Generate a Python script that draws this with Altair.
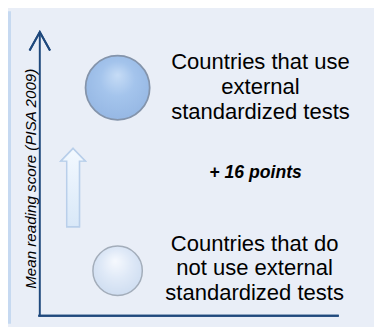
import altair as alt
import pandas as pd

# ---- data ----
groups = ["without_tests", "with_tests"]
labels = [
    "Countries that do\nnot use external\nstandardized tests",
    "Countries that use\nexternal\nstandardized tests",
]
score_gain = [0, 16]  # reading score relative to countries without tests
axis_title = "Mean reading score (PISA 2009)"

df = pd.DataFrame({"group": groups, "label": labels, "score": score_gain})
gap = score_gain[1] - score_gain[0]
ann = pd.DataFrame({"score": [(score_gain[0] + score_gain[1]) / 2],
                    "label": [f"+ {gap} points"]})

# ---- styles ----
PANEL = "#e9eef7"
BAND = "#c6d9f1"
AXIS = "#1f497d"
FONT = "Liberation Sans"
W, H = 305, 290

yscale = alt.Scale(domain=[-3.94, 20.88])
yaxis = alt.Axis(title=axis_title, labels=False, ticks=False, grid=False,
                 domain=True, domainColor=AXIS, domainWidth=2,
                 titleFont=FONT, titleFontSize=15.5, titleFontStyle="italic",
                 titleFontWeight="normal", titleColor="#000000",
                 titleAngle=270, titleX=-9, titleY=149.5,
                 titleAlign="center", titleBaseline="middle")
y_enc = alt.Y("score:Q", scale=yscale, axis=yaxis)

base = alt.Chart(df)

band = alt.Chart(df).mark_rect(color=BAND).encode(
    x=alt.value(-32), x2=alt.value(-29), y=alt.value(-21), y2=alt.value(H + 8))

xaxis_line = alt.Chart(df).mark_rule(color=AXIS, strokeWidth=2, strokeCap="square").encode(
    x=alt.value(0), x2=alt.value(W), y=alt.value(H))

arrow_head = alt.Chart(df).mark_point(
    shape="M-0.55,0.5L0,-0.5L0.55,0.5", filled=False, stroke=AXIS,
    strokeWidth=2, size=38 * 38, opacity=1).encode(
    x=alt.value(0.5), y=alt.value(9.5))

up_arrow = alt.Chart(df).mark_point(
    shape="M0,-1L0.3125,-0.675L0.1625,-0.675L0.1625,1L-0.1625,1L-0.1625,-0.675L-0.3125,-0.675Z",
    filled=True, size=6400, opacity=1, stroke="#b9cfea", strokeWidth=1.5,
    fill=alt.LinearGradient(gradient="linear", x1=0, y1=0, x2=0, y2=1,
                            stops=[alt.GradientStop(color="#f3f9ff", offset=0),
                                   alt.GradientStop(color="#d9e8f8", offset=1)])
).encode(x=alt.value(34.5), y=alt.value(159))

size_enc = alt.Size("score:Q", legend=None,
                    scale=alt.Scale(domain=[0, 16], range=[2550, 4300]))

big = base.transform_filter(alt.datum.group == "with_tests").mark_point(
    shape="circle", filled=True, opacity=1, stroke="#8494ab", strokeWidth=1.8,
    fill=alt.RadialGradient(gradient="radial", x1=0.5, y1=0.3, x2=0.5, y2=0.45,
                            r1=0, r2=0.6,
                            stops=[alt.GradientStop(color="#c6dcf6", offset=0),
                                   alt.GradientStop(color="#a4c4ec", offset=0.45),
                                   alt.GradientStop(color="#94b6e3", offset=1)])
).encode(x=alt.value(80), y=y_enc, size=size_enc)

small = base.transform_filter(alt.datum.group == "without_tests").mark_point(
    shape="circle", filled=True, opacity=1, stroke="#a3adba", strokeWidth=1.5,
    fill=alt.RadialGradient(gradient="radial", x1=0.45, y1=0.3, x2=0.5, y2=0.45,
                            r1=0, r2=0.6,
                            stops=[alt.GradientStop(color="#f6f9fe", offset=0),
                                   alt.GradientStop(color="#dfe9f7", offset=0.5),
                                   alt.GradientStop(color="#cddcf0", offset=1)])
).encode(x=alt.value(80), y=y_enc, size=size_enc)

top_label = base.transform_filter(alt.datum.group == "with_tests").mark_text(
    font=FONT, fontSize=22.5, lineHeight=25.5, lineBreak="\n", color="#000000",
    align="center", baseline="middle", dy=-26
).encode(x=alt.value(226), y=y_enc, text="label:N")

bottom_label = base.transform_filter(alt.datum.group == "without_tests").mark_text(
    font=FONT, fontSize=22.5, lineHeight=25, lineBreak="\n", color="#000000",
    align="center", baseline="middle", dy=-27.5
).encode(x=alt.value(220), y=y_enc, text="label:N")

gain = alt.Chart(ann).mark_text(
    font=FONT, fontSize=18, fontStyle="italic", fontWeight="bold",
    color="#000000", align="center", baseline="alphabetic", dy=-1
).encode(x=alt.value(221), y=y_enc, text="label:N")

chart = alt.layer(band, xaxis_line, arrow_head, up_arrow, big, small,
                  top_label, bottom_label, gain).properties(
    width=W, height=H,
    autosize=alt.AutoSizeParams(type="none"),
    padding={"left": 32, "top": 21, "right": 37, "bottom": 8},
    background=PANEL,
).configure_view(stroke=None)

chart.save("out.html", embed_options={"renderer": "svg", "actions": False})
